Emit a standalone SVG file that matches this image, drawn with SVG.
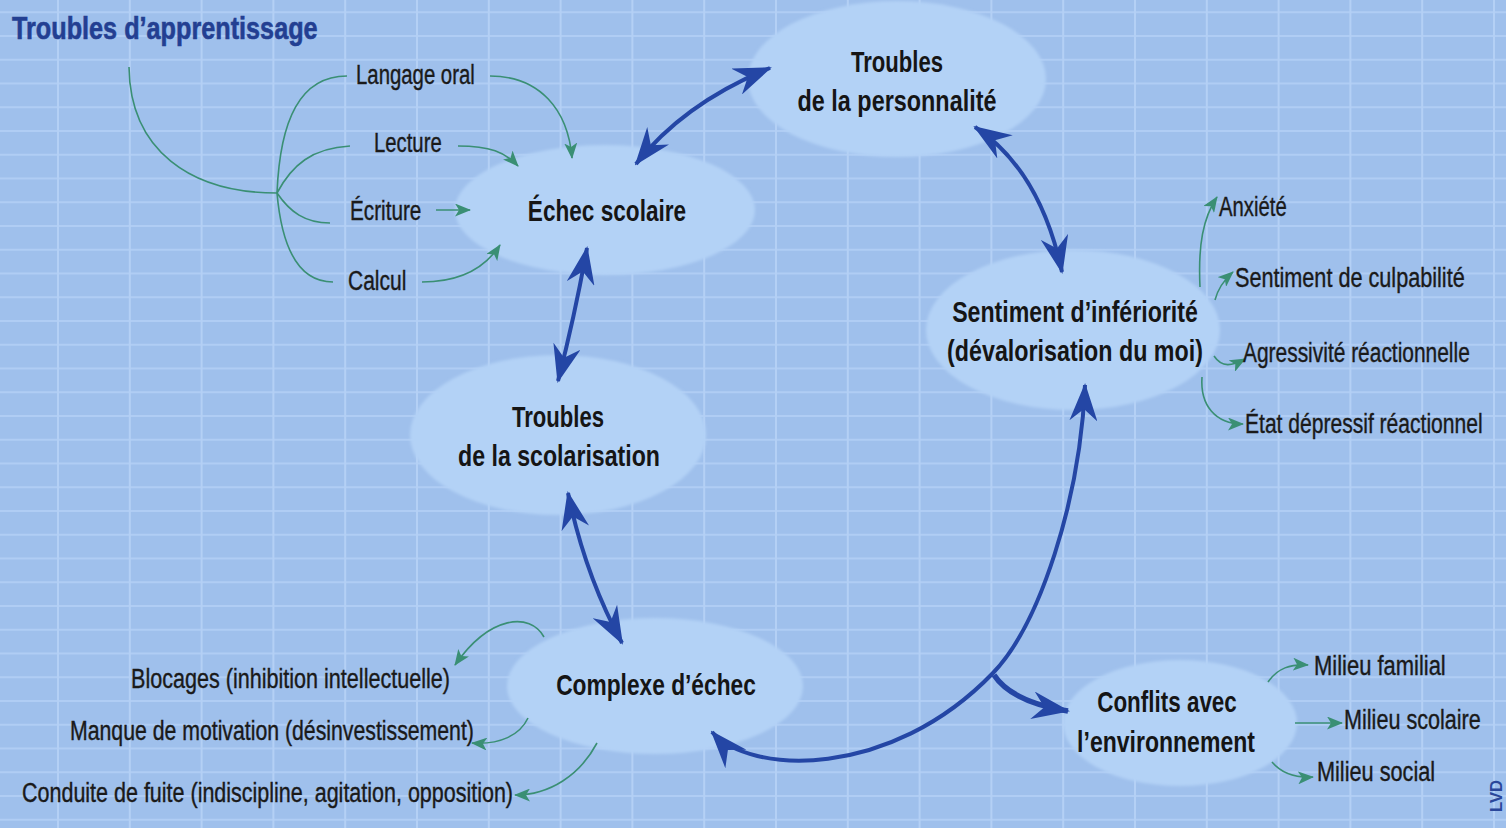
<svg xmlns="http://www.w3.org/2000/svg" width="1506" height="828" viewBox="0 0 1506 828">
<defs>
<style>
.node{fill:#b3d2f6;filter:url(#soft)}
.nt{font-family:"Liberation Sans",Arial,sans-serif;font-weight:bold;font-size:29px;fill:#151515;text-anchor:middle}
.lb{font-family:"Liberation Sans",Arial,sans-serif;font-size:28px;fill:#1a1a1a;stroke:#1a1a1a;stroke-width:0.4}
.g{fill:none;stroke:#3a8f74;stroke-width:1.6}
.ga{fill:none;stroke:#3a8f74;stroke-width:1.6;marker-end:url(#ga)}
.b{fill:none;stroke:#2446a5;stroke-width:4;marker-start:url(#ba);marker-end:url(#ba)}
</style>
<pattern id="grid" patternUnits="userSpaceOnUse" x="57" y="11.25" width="71.8" height="23.75">
<rect x="0" y="0" width="71.8" height="23.75" fill="#9fc0ec"/>
<rect x="0" y="0" width="71.8" height="2" fill="#b0cdf4"/>
<rect x="0" y="0" width="2" height="23.75" fill="#b4d0f5"/>
</pattern>
<filter id="soft" x="-10%" y="-10%" width="120%" height="120%"><feGaussianBlur stdDeviation="1.5"/></filter>
<marker id="ba" markerUnits="userSpaceOnUse" viewBox="0 0 38 28" refX="36" refY="14" markerWidth="38" markerHeight="28" orient="auto-start-reverse">
<path d="M0,0 L38,14 L0,28 L12,14 z" fill="#2446a5"/>
</marker>
<marker id="ga" markerUnits="userSpaceOnUse" viewBox="0 0 16 13" refX="15" refY="6.5" markerWidth="16" markerHeight="13" orient="auto">
<path d="M0,0 L16,6.5 L0,13 L4,6.5 z" fill="#3a8f74"/>
</marker>
</defs>
<rect x="0" y="0" width="1506" height="828" fill="url(#grid)"/>

<g id="title">
<text transform="translate(12,39) scale(0.8,1)" textLength="382" lengthAdjust="spacingAndGlyphs" style="font-family:'Liberation Sans',Arial,sans-serif;font-weight:bold;font-size:32px;fill:#233f92;stroke:#233f92;stroke-width:0.6">Troubles d’apprentissage</text>
</g>

<g id="n-personnalite">
<ellipse class="node" cx="897" cy="79" rx="149" ry="78"/>
<text class="nt" transform="translate(897,72) scale(0.78,1)" textLength="118" lengthAdjust="spacingAndGlyphs">Troubles</text>
<text class="nt" transform="translate(897,111) scale(0.78,1)" textLength="255" lengthAdjust="spacingAndGlyphs">de la personnalité</text>
</g>
<g id="n-echec">
<ellipse class="node" cx="605" cy="210" rx="150" ry="65"/>
<text class="nt" transform="translate(607,221) scale(0.78,1)" textLength="203" lengthAdjust="spacingAndGlyphs">Échec scolaire</text>
</g>
<g id="n-scolarisation">
<ellipse class="node" cx="558" cy="435" rx="148" ry="80"/>
<text class="nt" transform="translate(558,427) scale(0.78,1)" textLength="118" lengthAdjust="spacingAndGlyphs">Troubles</text>
<text class="nt" transform="translate(559,466) scale(0.78,1)" textLength="259" lengthAdjust="spacingAndGlyphs">de la scolarisation</text>
</g>
<g id="n-complexe">
<ellipse class="node" cx="655" cy="686" rx="148" ry="68"/>
<text class="nt" transform="translate(656,695) scale(0.78,1)" textLength="256" lengthAdjust="spacingAndGlyphs">Complexe d’échec</text>
</g>
<g id="n-sentiment">
<ellipse class="node" cx="1073" cy="330" rx="147" ry="80"/>
<text class="nt" transform="translate(1075,322) scale(0.78,1)" textLength="315" lengthAdjust="spacingAndGlyphs">Sentiment d’infériorité</text>
<text class="nt" transform="translate(1075,361) scale(0.78,1)" textLength="328" lengthAdjust="spacingAndGlyphs">(dévalorisation du moi)</text>
</g>
<g id="n-conflits">
<ellipse class="node" cx="1180" cy="723" rx="117" ry="63"/>
<text class="nt" transform="translate(1167,712) scale(0.78,1)" textLength="179" lengthAdjust="spacingAndGlyphs">Conflits avec</text>
<text class="nt" transform="translate(1166,752) scale(0.78,1)" textLength="228" lengthAdjust="spacingAndGlyphs">l’environnement</text>
</g>

<g id="connectors">
<path class="b" d="M636,164 Q684,103 770,68"/>
<path class="b" d="M975,127 Q1040,170 1062,272"/>
<path class="b" d="M587,248 Q575,315 558,381"/>
<path class="b" d="M568,493 Q585,575 622,643"/>
<path class="b" d="M712,732 C750,775 890,780 993,673 C1040,624 1080,500 1085,385"/>
<path d="M994,675 Q1012,702 1068,711" fill="none" stroke="#2446a5" stroke-width="5.5" marker-end="url(#ba)"/>
<path class="g" d="M129,67 C130,150 190,193 277,193"/>
<path class="g" d="M277,193 C280,120 300,76 347,76"/>
<path class="g" d="M277,193 C292,165 312,148 350,146"/>
<path class="g" d="M277,193 C290,212 305,223 330,223"/>
<path class="g" d="M277,193 C282,250 300,282 333,282"/>
<path class="ga" d="M490,76 C540,76 568,110 572,158"/>
<path class="ga" d="M458,146 C490,146 505,152 518,166"/>
<path class="ga" d="M436,210 L470,210"/>
<path class="ga" d="M422,282 C460,282 485,268 500,245"/>
<path class="ga" d="M1200,287 C1198,245 1203,218 1217,197"/>
<path class="ga" d="M1215,300 C1218,288 1224,280 1233,272"/>
<path class="ga" d="M1214,356 C1222,368 1232,366 1245,359"/>
<path class="ga" d="M1202,377 C1200,405 1215,424 1243,424"/>
<path class="ga" d="M1268,682 C1278,668 1290,664 1308,665"/>
<path class="ga" d="M1295,723 L1342,723"/>
<path class="ga" d="M1272,762 C1282,774 1295,778 1313,777"/>
<path class="ga" d="M544,637 C530,612 490,615 455,665"/>
<path class="ga" d="M528,718 C520,735 500,745 472,743"/>
<path class="ga" d="M597,743 C580,775 550,795 515,795"/>
</g>

<g id="labels">
<text class="lb" transform="translate(356,84) scale(0.72,1)" textLength="165" lengthAdjust="spacingAndGlyphs">Langage oral</text>
<text class="lb" transform="translate(374,152) scale(0.72,1)" textLength="94" lengthAdjust="spacingAndGlyphs">Lecture</text>
<text class="lb" transform="translate(350,220) scale(0.72,1)" textLength="99" lengthAdjust="spacingAndGlyphs">Écriture</text>
<text class="lb" transform="translate(348,290) scale(0.72,1)" textLength="81" lengthAdjust="spacingAndGlyphs">Calcul</text>
<text class="lb" transform="translate(1219,216) scale(0.72,1)" textLength="94" lengthAdjust="spacingAndGlyphs">Anxiété</text>
<text class="lb" transform="translate(1235,287) scale(0.72,1)" textLength="319" lengthAdjust="spacingAndGlyphs">Sentiment de culpabilité</text>
<text class="lb" transform="translate(1243,362) scale(0.72,1)" textLength="315" lengthAdjust="spacingAndGlyphs">Agressivité réactionnelle</text>
<text class="lb" transform="translate(1245,433) scale(0.72,1)" textLength="330" lengthAdjust="spacingAndGlyphs">État dépressif réactionnel</text>
<text class="lb" transform="translate(1314,675) scale(0.72,1)" textLength="183" lengthAdjust="spacingAndGlyphs">Milieu familial</text>
<text class="lb" transform="translate(1344,729) scale(0.72,1)" textLength="190" lengthAdjust="spacingAndGlyphs">Milieu scolaire</text>
<text class="lb" transform="translate(1317,781) scale(0.72,1)" textLength="164" lengthAdjust="spacingAndGlyphs">Milieu social</text>
<text class="lb" transform="translate(131,688) scale(0.72,1)" textLength="443" lengthAdjust="spacingAndGlyphs">Blocages (inhibition intellectuelle)</text>
<text class="lb" transform="translate(70,740) scale(0.72,1)" textLength="561" lengthAdjust="spacingAndGlyphs">Manque de motivation (désinvestissement)</text>
<text class="lb" transform="translate(22,802) scale(0.72,1)" textLength="682" lengthAdjust="spacingAndGlyphs">Conduite de fuite (indiscipline, agitation, opposition)</text>
<text transform="translate(1502,796) rotate(-90)" text-anchor="middle" textLength="32" lengthAdjust="spacingAndGlyphs" style="font-family:'Liberation Sans',Arial,sans-serif;font-weight:bold;font-size:17px;fill:#2a479a">LVD</text>
</g>
</svg>
